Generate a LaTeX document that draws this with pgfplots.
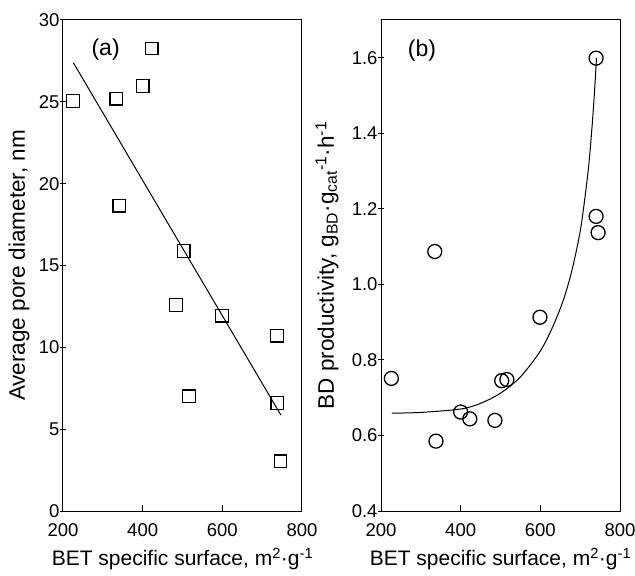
\documentclass[border=0pt]{standalone}
\usepackage{pgfplots}
\pgfplotsset{compat=1.18}
\usepackage{fontspec}
\setmainfont{Liberation Sans}
\begin{document}
\begin{tikzpicture}
\useasboundingbox (0pt,0pt) rectangle (635pt,576pt);
\pgfplotsset{
  every axis/.append style={
    scale only axis, width=239pt, height=491pt,
    xmin=200, xmax=800, xtick={200,400,600,800},
    axis line style={line width=1pt},
    every tick/.style={line width=1pt, black},
    xtick pos=bottom, ytick pos=left,
    x tick style={/pgfplots/tick align=inside},
    y tick style={/pgfplots/tick align=center},
    major tick length=6pt,
    tick label style={font=\fontsize{18.5}{20}\selectfont},
    ylabel style={font=\fontsize{22.5}{25}\selectfont},
    xlabel style={font=\fontsize{21}{24}\selectfont},
    xticklabel style={yshift=-9pt},
    /pgf/number format/assume math mode=true,
    xlabel={BET specific surface, m\textsuperscript{2}·g\textsuperscript{-1}},
    xlabel style={at={([yshift=-48pt]axis description cs:0.5,0)}, anchor=center},
    clip=false,
  }
}
\begin{axis}[at={(63pt,65pt)}, anchor=south west,
  ymin=0, ymax=30, ytick={0,5,10,15,20,25,30},
  ylabel={Average pore diameter, nm},
  ylabel style={at={([xshift=-44pt]axis description cs:0,0.5)}, anchor=center}]
\addplot[only marks, mark=square, mark size=6.3pt, mark options={line width=1.3pt, fill=white}] coordinates {
(225,25.05) (334,25.2) (400,25.96) (423,28.26) (341,18.65) (503,15.88)
(484,12.58) (599,11.93) (516,7.0) (737,10.71) (738,6.6) (746,3.03)
};
\addplot[black, line width=1pt] coordinates {(226,27.39) (747,5.86)};
\node[anchor=center, font=\fontsize{23}{25}\selectfont] at (axis cs:307,28.2) {(a)};
\end{axis}
\begin{axis}[at={(381pt,65pt)}, anchor=south west,
  ymin=0.4, ymax=1.7, ytick={0.4,0.6,0.8,1.0,1.2,1.4,1.6},
  yticklabel style={/pgf/number format/.cd, fixed, fixed zerofill, precision=1},
  ylabel={BD productivity, g\textsubscript{BD}·g\textsubscript{cat}\textsuperscript{-1}·h\textsuperscript{-1}},
  ylabel style={at={([xshift=-54pt]axis description cs:0,0.5)}, anchor=center}]
\addplot[black, line width=1pt, smooth] coordinates {
(227,0.659) (300,0.661) (400,0.670) (450,0.685) (500,0.712) (550,0.755)
(599,0.822) (630,0.885) (658,0.959) (680,1.04) (700,1.14) (712,1.23)
(722,1.32) (730,1.42) (736,1.51) (741,1.60)
};
\addplot[only marks, mark=o, mark size=7pt, mark options={line width=1.3pt, fill=white}] coordinates {
(740,1.599) (740,1.18) (745,1.137) (335,1.087) (226,0.751) (338,0.585)
(400,0.662) (423,0.644) (486,0.640) (516,0.748) (503,0.745) (599,0.913)
};
\node[anchor=center, font=\fontsize{23}{25}\selectfont] at (axis cs:303,1.619) {(b)};
\end{axis}
\end{tikzpicture}
\end{document}
